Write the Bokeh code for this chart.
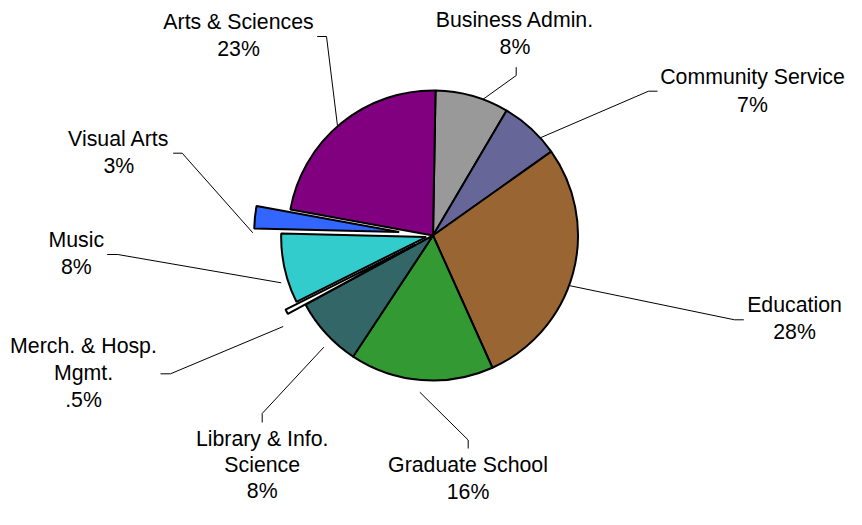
import math
from bokeh.plotting import figure
from bokeh.models import Range1d, ColumnDataSource
from bokeh.embed import file_html
from bokeh.resources import INLINE
from bokeh.core.properties import value

# ---------------- data ----------------
categories = ["Business Admin.", "Community Service", "Education", "Graduate School",
              "Library & Info.\nScience", "Merch. & Hosp.\nMgmt.", "Music",
              "Visual Arts", "Arts & Sciences"]
shares = [8.2, 6.7, 28.1, 16.0, 7.8, 0.55, 7.75, 2.5, 22.4]
pct_labels = ["8%", "7%", "28%", "16%", "8%", ".5%", "8%", "3%", "23%"]

# ---------------- style / layout ----------------
colors = ["#999999", "#666699", "#996633", "#339933", "#336666",
          "#FFFFFF", "#33CCCC", "#3366FF", "#800080"]
explode = [0, 0, 0, 0, 0, 20, 7, 34, 0]
W, H = 846, 509
CX, CY = 432.5, 235.0      # pie centre in canvas pixels
R = 145
START_DEG = 1.0
FONT = "Liberation Sans"
FSIZE = "21.3px"
BASE_FIX = 7.5             # renderer places alphabetic baseline lower

# label anchors (centre x, first baseline y, line step) in canvas pixels
label_pos = [(514.5, 26.7, 27.3), (752.0, 84.0, 27.7), (794.0, 311.7, 27.3),
             (467.5, 472.0, 26.5), (261.7, 446.0, 26.0), (83.0, 352.7, 27.0),
             (75.8, 247.3, 26.7), (118.3, 145.7, 27.6), (238.0, 29.3, 26.7)]
leaders = [
    [(515.7, 66.7), (515.7, 75.0), (468.3, 109.0)],
    [(657.0, 90.7), (648.0, 90.7), (527.3, 142.7)],
    [(743.3, 319.3), (734.0, 319.3), (568.3, 285.0)],
    [(467.7, 448.0), (467.7, 439.5), (419.3, 391.7)],
    [(261.7, 422.0), (261.7, 413.0), (323.3, 346.7)],
    [(160.0, 373.3), (170.0, 373.3), (282.7, 326.0)],
    [(106.7, 254.0), (117.3, 254.0), (280.7, 282.3)],
    [(172.7, 152.7), (181.7, 152.7), (252.3, 232.3)],
    [(316.7, 36.0), (326.0, 36.0), (338.3, 136.0)],
]


def px(x):
    return x - CX


def py(y):
    return CY - y


total = sum(shares)
xs, ys, starts, ends = [], [], [], []
acc = START_DEG
for s, d in zip(shares, explode):
    span = 360.0 * s / total
    a0, a1 = acc, acc + span
    mid = math.radians((a0 + a1) / 2)
    xs.append(d * math.sin(mid))
    ys.append(d * math.cos(mid))
    starts.append(math.radians(90 - a0))
    ends.append(math.radians(90 - a1))
    acc = a1

src = ColumnDataSource(dict(x=xs, y=ys, start=starts, end=ends, color=colors,
                            cat=categories, share=shares))

p = figure(width=W, height=H, output_backend="svg", toolbar_location=None,
           x_range=Range1d(px(0), px(W)), y_range=Range1d(py(H), py(0)),
           min_border=0, min_border_left=0, min_border_right=0,
           min_border_top=0, min_border_bottom=0)
p.axis.visible = False
p.grid.visible = False
p.outline_line_color = None
p.background_fill_color = "white"
p.border_fill_color = "white"

# leader lines
p.multi_line(xs=[[px(a) for a, _ in L] for L in leaders],
             ys=[[py(b) for _, b in L] for L in leaders],
             line_color="#000000", line_width=1)

p.wedge(x="x", y="y", radius=R, start_angle="start", end_angle="end",
        direction="clock", fill_color="color", line_color="black",
        line_width=2, source=src)

# labels
tx, ty, tt = [], [], []
for cat, pct, (lx, ly, step) in zip(categories, pct_labels, label_pos):
    lines = cat.split("\n") + [pct]
    for i, ln in enumerate(lines):
        tx.append(px(lx))
        ty.append(py(ly + i * step - BASE_FIX))
        tt.append(ln)
p.text(x=tx, y=ty, text=tt, text_align="center", text_baseline="alphabetic",
       text_font=value(FONT), text_font_size=FSIZE, text_color="black")

open("out.html", "w").write(file_html(p, INLINE))
